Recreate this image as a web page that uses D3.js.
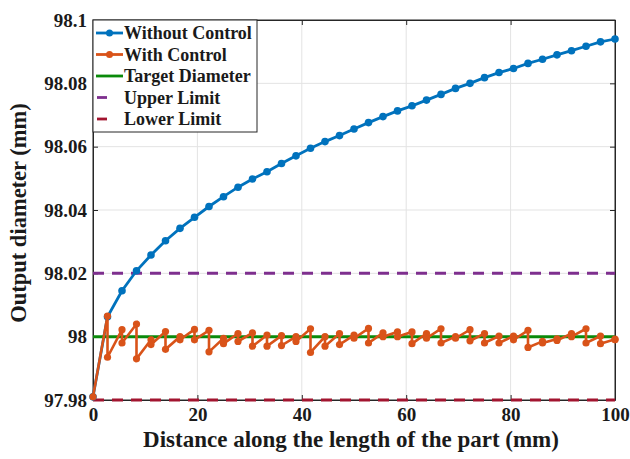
<!DOCTYPE html>
<meta charset="utf-8">
<head>
<style>
body { margin: 0; background: #fff; }
text { font-family: "Liberation Serif", "Times New Roman", serif; font-weight: bold; fill: #1a1a1a; }
</style>
</head>
<body>
<div id="chart"></div>
<script src="https://d3js.org/d3.v7.min.js"></script>
<script>
// data
const xTicks = [0, 20, 40, 60, 80, 100];
const yTicks = [97.98, 98, 98.02, 98.04, 98.06, 98.08, 98.1];
const yTickLabels = ["97.98", "98", "98.02", "98.04", "98.06", "98.08", "98.1"];

// sample positions along the part (mm), 37 samples
const samples = d3.range(0, 37).map(k => k * 100 / 36);

const withoutControl = [97.981, 98.0063, 98.0145, 98.0208, 98.0258, 98.0303, 98.0342, 98.0377,
  98.0411, 98.0442, 98.0472, 98.0498, 98.0521, 98.0547, 98.0571, 98.0595, 98.0616, 98.0635,
  98.0656, 98.0676, 98.0695, 98.0713, 98.0729, 98.0747, 98.0765, 98.0784, 98.0800, 98.0818,
  98.0834, 98.0847, 98.0863, 98.0876, 98.0890, 98.0903, 98.0917, 98.0931, 98.0940];

// with control: each sample after the first has a value before and after correction
const withControlFirst = [97.981, 98.0065, 98.0022, 98.0040, 97.9990, 98.0016, 98.0000, 98.0023,
  98.0020, 97.9995, 98.0010, 98.0012, 98.0005, 98.0003, 98.0000, 98.0025, 98.0000, 98.0010,
  98.0005, 98.0026, 98.0012, 98.0015, 98.0015, 98.0010, 98.0025, 98.0000, 98.0022, 98.0010,
  98.0002, 98.0002, 98.0020, 97.9985, 97.9993, 98.0010, 98.0025, 98.0002, 97.9992];
const withControlSecond = [97.981, 97.9935, 97.9980, 97.9930, 97.9975, 97.9960, 97.9990, 97.9990,
  97.9952, 97.9978, 97.9985, 97.9970, 97.9970, 97.9972, 97.9985, 97.9950, 97.9970, 97.9975,
  97.9995, 97.9980, 98.0000, 98.0000, 97.9978, 97.9995, 97.9980, 97.9995, 97.9987, 97.9980,
  97.9980, 97.9990, 97.9966, 97.9980, 97.9988, 98.0000, 97.9980, 97.9978, 97.9990];

const target = 98.0;
const upperLimit = 98.02;
const lowerLimit = 97.98;

const legendNames = ["Without Control", "With Control", "Target Diameter", "Upper Limit", "Lower Limit"];

// layout
const W = 630, H = 459;
const margin = {top: 20, right: 15, bottom: 59, left: 93};
const width = W - margin.left - margin.right;
const height = H - margin.top - margin.bottom;

const blue = "#0072BD", orange = "#D95319", green = "#0A8A0A", purple = "#7E2F8E", red = "#A2142F";

const svg = d3.select("#chart").append("svg")
  .attr("width", W).attr("height", H);

const g = svg.append("g").attr("transform", `translate(${margin.left},${margin.top})`);

const x = d3.scaleLinear().domain([0, 100]).range([0, width]);
const y = d3.scaleLinear().domain([97.98, 98.1]).range([height, 0]);

// grid
g.append("g").selectAll("line").data(xTicks.slice(1, -1)).join("line")
  .attr("x1", d => x(d)).attr("x2", d => x(d)).attr("y1", 0).attr("y2", height)
  .attr("stroke", "#e3e3e3").attr("stroke-width", 1);
g.append("g").selectAll("line").data(yTicks.slice(1, -1)).join("line")
  .attr("y1", d => y(d)).attr("y2", d => y(d)).attr("x1", 0).attr("x2", width)
  .attr("stroke", "#e3e3e3").attr("stroke-width", 1);

// axes with inward ticks, on all four sides
const axB = g.append("g").attr("transform", `translate(0,${height})`)
  .call(d3.axisBottom(x).tickValues(xTicks).tickSizeInner(-5).tickSizeOuter(0).tickPadding(8));
const axL = g.append("g")
  .call(d3.axisLeft(y).tickValues(yTicks).tickFormat((d, i) => yTickLabels[i]).tickSizeInner(-5).tickSizeOuter(0).tickPadding(6));
g.append("g").call(d3.axisTop(x).tickValues(xTicks).tickSizeInner(-5).tickSizeOuter(0).tickFormat(""));
g.append("g").attr("transform", `translate(${width},0)`)
  .call(d3.axisRight(y).tickValues(yTicks).tickSizeInner(-5).tickSizeOuter(0).tickFormat(""));
g.selectAll(".domain").attr("stroke", "#262626");
g.selectAll(".tick line").attr("stroke", "#262626");
[axB, axL].forEach(a => a.selectAll("text")
  .style("font-family", '"Liberation Serif", serif').style("font-weight", "bold")
  .style("font-size", "19px").attr("fill", "#1a1a1a"));
g.append("rect").attr("width", width).attr("height", height)
  .attr("fill", "none").attr("stroke", "#262626").attr("stroke-width", 1);

// reference lines
g.append("line").attr("x1", 0).attr("x2", width).attr("y1", y(upperLimit)).attr("y2", y(upperLimit))
  .attr("stroke", purple).attr("stroke-width", 3).attr("stroke-dasharray", "11,8");
g.append("line").attr("x1", 0).attr("x2", width).attr("y1", y(lowerLimit)).attr("y2", y(lowerLimit))
  .attr("stroke", red).attr("stroke-width", 3).attr("stroke-dasharray", "11,8");

// blue series
const line = d3.line().x(d => x(d[0])).y(d => y(d[1]));
const blueData = samples.map((s, i) => [s, withoutControl[i]]);
g.append("path").datum(blueData).attr("d", line)
  .attr("fill", "none").attr("stroke", blue).attr("stroke-width", 2.8);
g.append("g").selectAll("circle").data(blueData).join("circle")
  .attr("cx", d => x(d[0])).attr("cy", d => y(d[1])).attr("r", 3.8).attr("fill", blue);

// orange series
const orangeData = [];
samples.forEach((s, i) => {
  orangeData.push([s, withControlFirst[i]]);
  if (i > 0) orangeData.push([s, withControlSecond[i]]);
});

// target
g.append("line").attr("x1", 0).attr("x2", width).attr("y1", y(target)).attr("y2", y(target))
  .attr("stroke", green).attr("stroke-width", 3);

g.append("path").datum(orangeData).attr("d", line)
  .attr("fill", "none").attr("stroke", orange).attr("stroke-width", 2.6);
g.append("g").selectAll("circle").data(orangeData).join("circle")
  .attr("cx", d => x(d[0])).attr("cy", d => y(d[1])).attr("r", 3.6).attr("fill", orange);

// legend
const leg = g.append("g");
leg.append("rect").attr("x", 0).attr("y", 0).attr("width", 164).attr("height", 112)
  .attr("fill", "#fff").attr("stroke", "#262626").attr("stroke-width", 1);
const legColors = [blue, orange, green, purple, red];
legendNames.forEach((name, i) => {
  const ly = 13 + i * 21.5;
  const row = leg.append("g").attr("transform", `translate(0,${ly})`);
  if (i < 3) {
    row.append("line").attr("x1", 3).attr("x2", 30).attr("y1", 0).attr("y2", 0)
      .attr("stroke", legColors[i]).attr("stroke-width", 2.8);
    if (i < 2) row.append("circle").attr("cx", 16.5).attr("cy", 0).attr("r", 3.5).attr("fill", legColors[i]);
  } else {
    row.append("line").attr("x1", 4).attr("x2", 14).attr("y1", 0).attr("y2", 0)
      .attr("stroke", legColors[i]).attr("stroke-width", 2.8);
  }
  row.append("text").attr("x", 31).attr("y", 0).attr("dy", "0.35em")
    .style("font-size", "18px").text(name);
});

// axis titles
svg.append("text").attr("x", margin.left + width / 2 - 3).attr("y", 447)
  .attr("text-anchor", "middle").style("font-size", "23px")
  .text("Distance along the length of the part (mm)");
svg.append("text").attr("transform", `translate(26,${margin.top + height / 2 + 3}) rotate(-90)`)
  .attr("text-anchor", "middle").style("font-size", "22.5px")
  .text("Output diameter (mm)");
</script>
</body>
</html>
